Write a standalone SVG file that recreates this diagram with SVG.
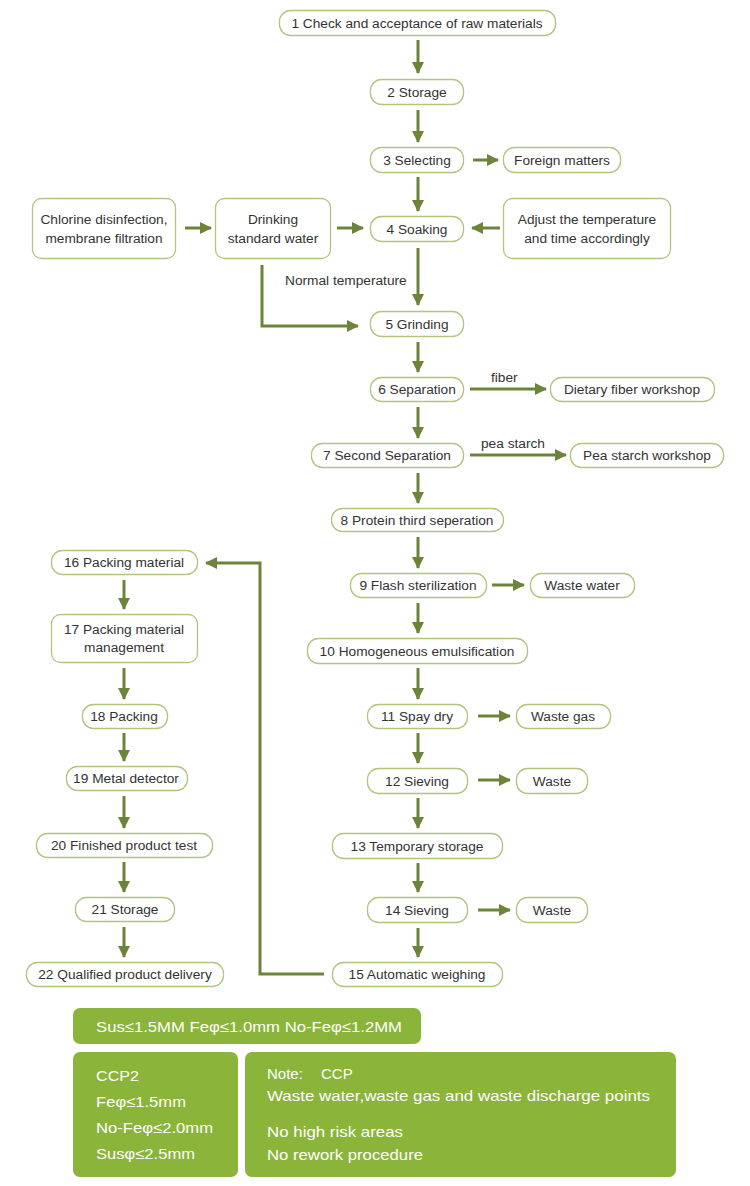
<svg xmlns="http://www.w3.org/2000/svg" width="750" height="1186" viewBox="0 0 750 1186">
<defs>
<style>
.n{fill:#fff;stroke:#b3c47f;stroke-width:1.3}
.t{font-family:"Liberation Sans",Arial,sans-serif;font-size:13.7px;fill:#333;text-anchor:middle}
.l{font-family:"Liberation Sans",Arial,sans-serif;font-size:13.7px;fill:#333}
.c{fill:none;stroke:#6b843a;stroke-width:3}
.g{fill:#8bb43a}
.w{font-family:"Liberation Sans",Arial,sans-serif;font-size:15px;fill:#fff}
</style>
<marker id="ah" markerUnits="userSpaceOnUse" markerWidth="12" markerHeight="12" viewBox="0 0 12 12" refX="11" refY="6" orient="auto">
<path d="M0,0 L12,6 L0,12 z" fill="#6b843a"/>
</marker>
</defs>
<rect width="750" height="1186" fill="#fff"/>

<g id="connectors">
<line class="c" x1="418" y1="40" x2="418" y2="73" marker-end="url(#ah)"/>
<line class="c" x1="418" y1="110" x2="418" y2="142" marker-end="url(#ah)"/>
<line class="c" x1="418" y1="177" x2="418" y2="211" marker-end="url(#ah)"/>
<line class="c" x1="418" y1="248" x2="418" y2="305" marker-end="url(#ah)"/>
<line class="c" x1="418" y1="342" x2="418" y2="372" marker-end="url(#ah)"/>
<line class="c" x1="418" y1="407" x2="418" y2="438" marker-end="url(#ah)"/>
<line class="c" x1="418" y1="473" x2="418" y2="503" marker-end="url(#ah)"/>
<line class="c" x1="418" y1="537" x2="418" y2="568" marker-end="url(#ah)"/>
<line class="c" x1="418" y1="603" x2="418" y2="633" marker-end="url(#ah)"/>
<line class="c" x1="418" y1="668" x2="418" y2="699" marker-end="url(#ah)"/>
<line class="c" x1="418" y1="733" x2="418" y2="763" marker-end="url(#ah)"/>
<line class="c" x1="418" y1="798" x2="418" y2="828" marker-end="url(#ah)"/>
<line class="c" x1="418" y1="863" x2="418" y2="892" marker-end="url(#ah)"/>
<line class="c" x1="418" y1="928" x2="418" y2="957" marker-end="url(#ah)"/>

<line class="c" x1="124" y1="580" x2="124" y2="609" marker-end="url(#ah)"/>
<line class="c" x1="124" y1="668" x2="124" y2="699" marker-end="url(#ah)"/>
<line class="c" x1="124" y1="733" x2="124" y2="761" marker-end="url(#ah)"/>
<line class="c" x1="124" y1="796" x2="124" y2="828" marker-end="url(#ah)"/>
<line class="c" x1="124" y1="862" x2="124" y2="892" marker-end="url(#ah)"/>
<line class="c" x1="124" y1="927" x2="124" y2="957" marker-end="url(#ah)"/>

<line class="c" x1="473" y1="160" x2="498" y2="160" marker-end="url(#ah)"/>
<line class="c" x1="185" y1="228" x2="211" y2="228" marker-end="url(#ah)"/>
<line class="c" x1="337" y1="228" x2="363" y2="228" marker-end="url(#ah)"/>
<line class="c" x1="500" y1="228" x2="472" y2="228" marker-end="url(#ah)"/>
<polyline class="c" points="262,265 262,326 358,326" marker-end="url(#ah)"/>
<line class="c" x1="470" y1="389" x2="546" y2="389" marker-end="url(#ah)"/>
<line class="c" x1="470" y1="455" x2="566" y2="455" marker-end="url(#ah)"/>
<line class="c" x1="492" y1="585" x2="524" y2="585" marker-end="url(#ah)"/>
<line class="c" x1="478" y1="716" x2="510" y2="716" marker-end="url(#ah)"/>
<line class="c" x1="478" y1="780" x2="510" y2="780" marker-end="url(#ah)"/>
<line class="c" x1="478" y1="910" x2="510" y2="910" marker-end="url(#ah)"/>
<polyline class="c" points="324,974 260,974 260,563 206,563" marker-end="url(#ah)"/>

<text class="l" x="285" y="285">Normal temperature</text>
<text class="l" x="491" y="382">fiber</text>
<text class="l" x="481" y="448">pea starch</text>
</g>

<g id="n1"><rect class="n" x="279.5" y="10.5" width="276" height="25" rx="11"/><text class="t" x="417" y="27.5">1 Check and acceptance of raw materials</text></g>
<g id="n2"><rect class="n" x="370.5" y="79.5" width="93" height="25" rx="11"/><text class="t" x="417" y="96.5">2 Storage</text></g>
<g id="n3"><rect class="n" x="370.5" y="147.5" width="93" height="25" rx="11"/><text class="t" x="417" y="164.5">3 Selecting</text></g>
<g id="foreign"><rect class="n" x="503.5" y="147.5" width="117" height="25" rx="11"/><text class="t" x="562" y="164.5">Foreign matters</text></g>
<g id="n4"><rect class="n" x="370.5" y="216.5" width="93" height="25" rx="11"/><text class="t" x="417" y="233.5">4 Soaking</text></g>
<g id="chlorine"><rect class="n" x="32.5" y="198.5" width="143" height="60" rx="9"/><text class="t" x="104" y="224">Chlorine disinfection,</text><text class="t" x="104" y="243">membrane filtration</text></g>
<g id="drinking"><rect class="n" x="215.5" y="198.5" width="115" height="60" rx="9"/><text class="t" x="273" y="224">Drinking</text><text class="t" x="273" y="243">standard water</text></g>
<g id="adjust"><rect class="n" x="503.5" y="198.5" width="167" height="60" rx="9"/><text class="t" x="587" y="224">Adjust the temperature</text><text class="t" x="587" y="243">and time accordingly</text></g>
<g id="n5"><rect class="n" x="370.5" y="311.5" width="93" height="25" rx="11"/><text class="t" x="417" y="328.5">5 Grinding</text></g>
<g id="n6"><rect class="n" x="370.5" y="377.5" width="93" height="24" rx="11"/><text class="t" x="417" y="394">6 Separation</text></g>
<g id="fiberws"><rect class="n" x="550.5" y="377.5" width="164" height="24" rx="11"/><text class="t" x="632" y="394">Dietary fiber workshop</text></g>
<g id="n7"><rect class="n" x="311.5" y="443.5" width="152" height="24" rx="11"/><text class="t" x="387" y="460">7 Second Separation</text></g>
<g id="starchws"><rect class="n" x="570.5" y="443.5" width="153" height="24" rx="11"/><text class="t" x="647" y="460">Pea starch workshop</text></g>
<g id="n8"><rect class="n" x="331.5" y="508.5" width="172" height="23" rx="11"/><text class="t" x="417" y="524.5">8 Protein third seperation</text></g>
<g id="n9"><rect class="n" x="350.5" y="573.5" width="136" height="24" rx="11"/><text class="t" x="418" y="590">9 Flash sterilization</text></g>
<g id="wastewater"><rect class="n" x="530.5" y="573.5" width="104" height="24" rx="11"/><text class="t" x="582" y="590">Waste water</text></g>
<g id="n10"><rect class="n" x="307.5" y="638.5" width="220" height="25" rx="11"/><text class="t" x="417" y="655.5">10 Homogeneous emulsification</text></g>
<g id="n11"><rect class="n" x="367.5" y="704.5" width="100" height="24" rx="11"/><text class="t" x="417" y="721">11 Spay dry</text></g>
<g id="wastegas"><rect class="n" x="516.5" y="704.5" width="94" height="24" rx="11"/><text class="t" x="563" y="721">Waste gas</text></g>
<g id="n12"><rect class="n" x="367.5" y="768.5" width="100" height="25" rx="11"/><text class="t" x="417" y="785.5">12 Sieving</text></g>
<g id="waste1"><rect class="n" x="516.5" y="768.5" width="71" height="25" rx="11"/><text class="t" x="552" y="785.5">Waste</text></g>
<g id="n13"><rect class="n" x="332.5" y="833.5" width="170" height="25" rx="11"/><text class="t" x="417" y="850.5">13 Temporary storage</text></g>
<g id="n14"><rect class="n" x="367.5" y="897.5" width="100" height="25" rx="11"/><text class="t" x="417" y="914.5">14 Sieving</text></g>
<g id="waste2"><rect class="n" x="516.5" y="897.5" width="71" height="25" rx="11"/><text class="t" x="552" y="914.5">Waste</text></g>
<g id="n15"><rect class="n" x="332.5" y="962.5" width="170" height="24" rx="11"/><text class="t" x="417" y="979">15 Automatic weighing</text></g>

<g id="n16"><rect class="n" x="51.5" y="550.5" width="146" height="24" rx="11"/><text class="t" x="124" y="567">16 Packing material</text></g>
<g id="n17"><rect class="n" x="51.5" y="614.5" width="146" height="48" rx="9"/><text class="t" x="124" y="634">17 Packing material</text><text class="t" x="124" y="652">management</text></g>
<g id="n18"><rect class="n" x="82.5" y="704.5" width="85" height="24" rx="11"/><text class="t" x="124" y="721">18 Packing</text></g>
<g id="n19"><rect class="n" x="66.5" y="766.5" width="121" height="24" rx="11"/><text class="t" x="126" y="783">19 Metal detector</text></g>
<g id="n20"><rect class="n" x="36.5" y="833.5" width="176" height="24" rx="11"/><text class="t" x="124" y="850">20 Finished product test</text></g>
<g id="n21"><rect class="n" x="75.5" y="897.5" width="99" height="24" rx="11"/><text class="t" x="125" y="914">21 Storage</text></g>
<g id="n22"><rect class="n" x="26.5" y="962.5" width="197" height="24" rx="11"/><text class="t" x="125" y="979">22 Qualified product delivery</text></g>

<g id="limits"><rect class="g" x="73" y="1008" width="348" height="36" rx="7"/><text class="w" x="96" y="1032" textLength="306" lengthAdjust="spacingAndGlyphs">Sus≤1.5MM Feφ≤1.0mm No-Feφ≤1.2MM</text></g>
<g id="ccp2"><rect class="g" x="73" y="1052" width="165" height="125" rx="7"/>
<text class="w" x="96" y="1081" textLength="43" lengthAdjust="spacingAndGlyphs">CCP2</text>
<text class="w" x="96" y="1107" textLength="90" lengthAdjust="spacingAndGlyphs">Feφ≤1.5mm</text>
<text class="w" x="96" y="1133" textLength="117" lengthAdjust="spacingAndGlyphs">No-Feφ≤2.0mm</text>
<text class="w" x="96" y="1159" textLength="99" lengthAdjust="spacingAndGlyphs">Susφ≤2.5mm</text></g>
<g id="note"><rect class="g" x="245" y="1052" width="431" height="125" rx="7"/>
<text class="w" x="267" y="1079">Note:</text>
<text class="w" x="321" y="1079">CCP</text>
<text class="w" x="267" y="1101" textLength="383" lengthAdjust="spacingAndGlyphs">Waste water,waste gas and waste discharge points</text>
<text class="w" x="267" y="1137" textLength="136" lengthAdjust="spacingAndGlyphs">No high risk areas</text>
<text class="w" x="267" y="1160" textLength="156" lengthAdjust="spacingAndGlyphs">No rework procedure</text></g>
</svg>
